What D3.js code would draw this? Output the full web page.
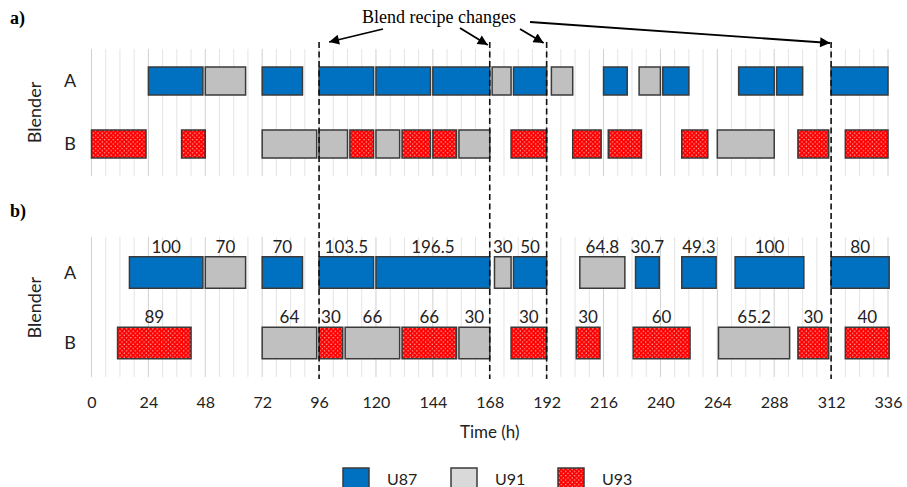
<!DOCTYPE html>
<html>
<head>
<meta charset="utf-8">
<script src="https://cdn.jsdelivr.net/npm/d3@7"></script>
<style>
  html, body { margin: 0; padding: 0; background: #fff; }
  svg { display: block; }
</style>
</head>
<body>
<svg id="chart" width="907" height="487"></svg>
<script>
// Axis ticks (hours) and gridline step
const hourTicks = [0, 24, 48, 72, 96, 120, 144, 168, 192, 216, 240, 264, 288, 312, 336];
const gridStep = 6;
const recipeChanges = [96, 168, 192, 312];
const blenders = ["A", "B"];
const grades = ["U87", "U91", "U93"];

// a) schedule: [blender, grade, start h, end h]
const scheduleA = [
  ["A", "U87", 24, 47], ["A", "U91", 48, 65], ["A", "U87", 72, 89],
  ["A", "U87", 96, 119], ["A", "U87", 120, 143], ["A", "U87", 144, 168],
  ["A", "U91", 169, 177], ["A", "U87", 178, 192], ["A", "U91", 194, 203],
  ["A", "U87", 216, 226], ["A", "U91", 231, 240], ["A", "U87", 241, 252],
  ["A", "U87", 273, 288], ["A", "U87", 289, 300], ["A", "U87", 312, 336],
  ["B", "U93", 0, 23], ["B", "U93", 38, 48], ["B", "U91", 72, 95],
  ["B", "U91", 96, 108], ["B", "U93", 109, 119], ["B", "U91", 120, 130],
  ["B", "U93", 131, 143], ["B", "U93", 144, 154], ["B", "U91", 155, 168],
  ["B", "U93", 177, 192], ["B", "U93", 203, 215], ["B", "U93", 218, 232],
  ["B", "U93", 249, 260], ["B", "U91", 264, 288], ["B", "U93", 298, 311],
  ["B", "U93", 318, 336]
];

// b) schedule: [blender, grade, start h, end h, volume]
const scheduleB = [
  ["A", "U87", 16, 47, "100"], ["A", "U91", 48, 65, "70"], ["A", "U87", 72, 89, "70"],
  ["A", "U87", 96, 119, "103.5"], ["A", "U87", 120, 168, "196.5"], ["A", "U91", 170, 177, "30"],
  ["A", "U87", 178, 192, "50"], ["A", "U91", 206, 225, "64.8"], ["A", "U87", 229.5, 239.5, "30.7"],
  ["A", "U87", 249, 263.5, "49.3"], ["A", "U87", 271.5, 300.5, "100"], ["A", "U87", 312, 336.5, "80"],
  ["B", "U93", 11, 42, "89"], ["B", "U91", 72, 95, "64"], ["B", "U93", 96, 106, "30"],
  ["B", "U91", 107, 130, "66"], ["B", "U93", 131, 154, "66"], ["B", "U91", 155, 168, "30"],
  ["B", "U93", 177, 192, "30"], ["B", "U93", 204.5, 214.5, "30"], ["B", "U93", 228.5, 252.5, "60"],
  ["B", "U91", 264.5, 294.5, "65.2"], ["B", "U93", 298, 311, "30"], ["B", "U93", 318, 336.5, "40"]
];

const svg = d3.select("#chart");
const sans = "Lato, 'Open Sans', sans-serif";
const serif = "'Liberation Serif', 'DejaVu Serif', serif";

const x = d3.scaleLinear().domain([0, 336]).range([91.5, 888]);

// fills per grade
const defs = svg.append("defs");
const pat = defs.append("pattern")
  .attr("id", "dots").attr("patternUnits", "userSpaceOnUse")
  .attr("width", 4.4).attr("height", 4.4);
pat.append("rect").attr("width", 4.4).attr("height", 4.4).attr("fill", "#ff0000");
pat.append("circle").attr("cx", 1.1).attr("cy", 1.1).attr("r", 0.65).attr("fill", "#ffd6d6");
pat.append("circle").attr("cx", 3.3).attr("cy", 3.3).attr("r", 0.65).attr("fill", "#ffd6d6");

const fill = d3.scaleOrdinal().domain(grades).range(["#0070c0", "#c0c0c0", "url(#dots)"]);

const marker = defs.append("marker")
  .attr("id", "arrow").attr("viewBox", "0 0 10 10")
  .attr("refX", 10).attr("refY", 5)
  .attr("markerUnits", "userSpaceOnUse")
  .attr("markerWidth", 13).attr("markerHeight", 10)
  .attr("orient", "auto");
marker.append("path").attr("d", "M0,0 L10,5 L0,10 Z").attr("fill", "#000");

const gridHours = d3.range(0, 336 + gridStep, gridStep);

function panel(cfg) {
  const g = svg.append("g");
  const y = d3.scalePoint().domain(blenders).range(cfg.rows);

  // vertical gridlines
  g.append("g").selectAll("line").data(gridHours).join("line")
    .attr("x1", d => x(d)).attr("x2", d => x(d))
    .attr("y1", cfg.gridTop).attr("y2", cfg.gridBottom)
    .attr("stroke", d => d % 24 === 0 ? "#d0d0d0" : "#e4e4e4")
    .attr("stroke-width", 1);

  // row labels
  g.append("g").selectAll("text").data(blenders).join("text")
    .attr("x", 70).attr("y", d => y(d)).attr("dy", "0.36em")
    .attr("text-anchor", "middle")
    .attr("font-family", sans).attr("font-size", 18).attr("fill", "#222")
    .text(d => d);

  g.append("text")
    .attr("transform", `translate(41,${(cfg.rows[0] + cfg.rows[1]) / 2}) rotate(-90)`)
    .attr("text-anchor", "middle")
    .attr("font-family", sans).attr("font-size", 18).attr("fill", "#222")
    .text("Blender");

  // panel tag
  g.append("text")
    .attr("x", 10).attr("y", cfg.tagY)
    .attr("font-family", serif).attr("font-weight", "bold").attr("font-size", 18)
    .text(cfg.tag);

  // schedule bars
  const h = cfg.barH;
  g.append("g").selectAll("rect").data(cfg.data).join("rect")
    .attr("x", d => x(d[2])).attr("width", d => x(d[3]) - x(d[2]))
    .attr("y", d => y(d[0]) - h / 2).attr("height", h)
    .attr("fill", d => fill(d[1]))
    .attr("stroke", "#3a3a3a").attr("stroke-width", 1.5);

  if (cfg.labels) {
    g.append("g").selectAll("text").data(cfg.data).join("text")
      .attr("x", d => (x(d[2]) + x(d[3])) / 2)
      .attr("y", d => y(d[0]) - h / 2 - 4)
      .attr("text-anchor", "middle")
      .attr("font-family", sans).attr("font-size", 17).attr("fill", "#222")
      .text(d => d[4]);
  }
}

panel({ data: scheduleA, rows: [81, 144], barH: 28, gridTop: 49, gridBottom: 176, tag: "a)", tagY: 24, labels: false });
panel({ data: scheduleB, rows: [272.5, 343], barH: 31.5, gridTop: 237, gridBottom: 377, tag: "b)", tagY: 217, labels: true });

// time axis
const axis = d3.axisBottom(x).tickValues(hourTicks).tickSize(0).tickPadding(0);
const ax = svg.append("g").attr("transform", "translate(0,396)").call(axis);
ax.select(".domain").remove();
ax.selectAll("text")
  .attr("font-family", sans).attr("font-size", 16).attr("fill", "#222").attr("dy", "0.75em");

svg.append("text")
  .attr("x", x(168)).attr("y", 438)
  .attr("text-anchor", "middle")
  .attr("font-family", sans).attr("font-size", 17).attr("fill", "#222")
  .text("Time (h)");

// recipe change markers
svg.append("g").selectAll("line").data(recipeChanges).join("line")
  .attr("x1", d => x(d)).attr("x2", d => x(d))
  .attr("y1", 42).attr("y2", 379)
  .attr("stroke", "#111").attr("stroke-width", 1.6)
  .attr("stroke-dasharray", "6,3.5");

svg.append("text")
  .attr("x", 439).attr("y", 23)
  .attr("text-anchor", "middle")
  .attr("font-family", serif).attr("font-size", 18).attr("fill", "#000")
  .text("Blend recipe changes");

// arrows from the annotation to each change line
const arrowStarts = [[383, 29], [460, 28], [520, 29], [530, 22]];
const arrowTips = [[x(96) + 10, 42], [x(168) - 2, 45], [x(192) - 3, 43], [x(312) - 1, 43]];
svg.append("g").selectAll("line").data(arrowStarts).join("line")
  .attr("x1", d => d[0]).attr("y1", d => d[1])
  .attr("x2", (d, i) => arrowTips[i][0]).attr("y2", (d, i) => arrowTips[i][1])
  .attr("stroke", "#000").attr("stroke-width", 1.8)
  .attr("marker-end", "url(#arrow)");

// legend
const legX = [343, 451, 558];
const leg = svg.append("g").selectAll("g").data(grades).join("g")
  .attr("transform", (d, i) => `translate(${legX[i]},468)`);
leg.append("rect").attr("width", 26).attr("height", 24)
  .attr("fill", d => d === "U91" ? "#d9d9d9" : fill(d))
  .attr("stroke", "#3a3a3a").attr("stroke-width", 1.5);
leg.append("text").attr("x", 44).attr("y", 17)
  .attr("font-family", sans).attr("font-size", 16).attr("fill", "#222")
  .text(d => d);
</script>
</body>
</html>
